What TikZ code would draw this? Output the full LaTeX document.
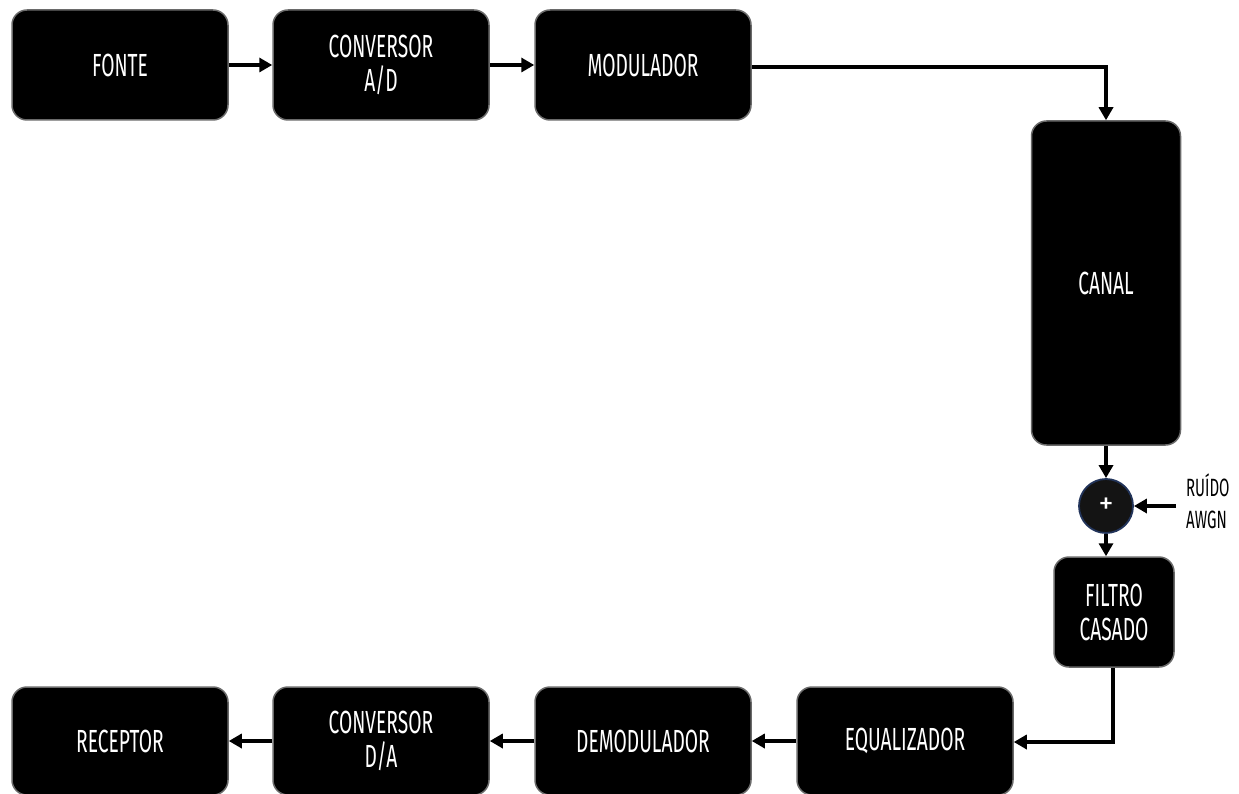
\documentclass[tikz,border=0pt]{standalone}
\usepackage{fontspec}
\setmainfont[FakeStretch=0.62]{Fira Sans}
\newfontfamily\boxfont[FakeStretch=0.6]{Fira Sans}
\newfontfamily\plusfont{Fira Sans}
\usetikzlibrary{arrows.meta}
\definecolor{rim}{HTML}{6A6A6A}
\definecolor{ringblue}{HTML}{22345A}
\tikzset{
  blk/.style={draw=rim, line width=1.5pt, fill=black, rounded corners=15pt,
    text=white, align=center, font=\boxfont\fontsize{32}{34}\selectfont,
    minimum width=216pt, minimum height=110pt, inner sep=0pt},
  sumnode/.style={circle, draw=ringblue, line width=1.8pt, fill=black!92,
    text=white, minimum size=54pt, inner sep=0pt, font=\plusfont\fontsize{30}{30}\selectfont},
  flow/.style={line width=3.5pt, -{Triangle[length=13pt,width=14pt]}},
  lbl/.style={align=left, font=\boxfont\fontsize{25}{32}\selectfont, inner sep=0pt}
}
\begin{document}
\begin{tikzpicture}[x=1pt,y=-1pt]
\useasboundingbox (0,0) rectangle (1239,794);
% transmitter chain
\node[blk] (fonte) at (120,65) {FONTE};
\node[blk] (ad)    at (381,65) {CONVERSOR\\A/D};
\node[blk] (mod)   at (643,65) {MODULADOR};
% channel
\node[blk, minimum width=149pt, minimum height=324pt] (canal) at (1106,283) {CANAL};
\node[sumnode] (soma) at (1106,506) {+};
\node[lbl, anchor=west] (ruido) at (1186,501) {RUÍDO\\AWGN};
\node[blk, minimum width=120pt, minimum height=110pt] (filtro) at (1114,612) {FILTRO\\CASADO};
% receiver chain
\node[blk, minimum height=108pt] (eq)   at (905,741) {EQUALIZADOR};
\node[blk, minimum height=108pt] (dem)  at (643,741) {DEMODULADOR};
\node[blk, minimum height=108pt] (da)   at (381,741) {CONVERSOR\\D/A};
\node[blk, minimum height=108pt] (rec)  at (120,741) {RECEPTOR};
% connectors
\coordinate (cornerA) at (1106,67);
\coordinate (cornerB) at (1113,742);
\coordinate (nz) at (1176,506);
\draw[flow] (mod.east |- cornerA) -- (cornerA) -- (canal.north);
\draw[flow] (fonte) -- (ad);
\draw[flow] (ad) -- (mod);
\draw[flow] (canal.south) -- (soma.north);
\draw[flow] (nz) -- (soma.east);
\draw[flow] (soma.south) -- (soma.south |- filtro.north);
\draw[flow] (filtro.south -| cornerB) -- (cornerB) -- (eq.east |- cornerB);
\draw[flow] (eq) -- (dem);
\draw[flow] (dem) -- (da);
\draw[flow] (da) -- (rec);
\end{tikzpicture}
\end{document}
